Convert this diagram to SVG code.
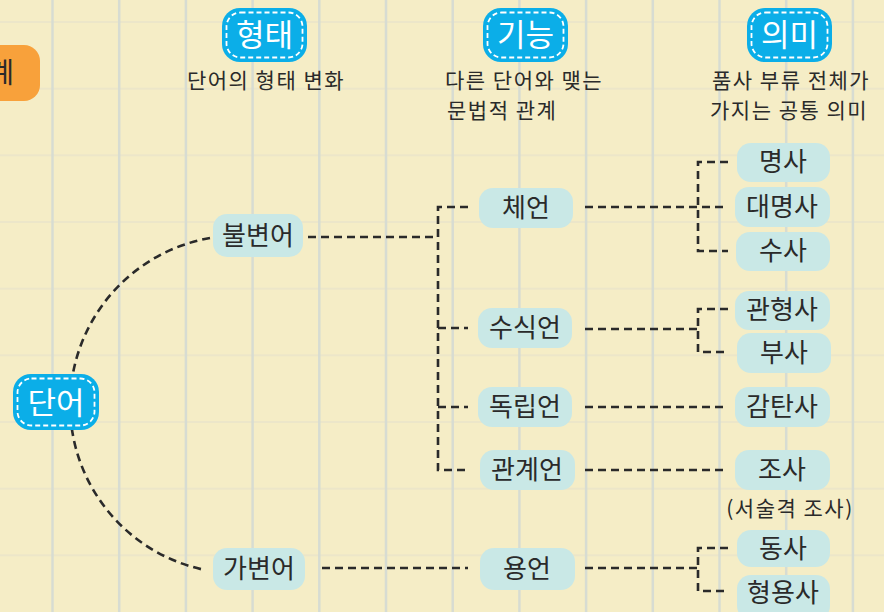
<svg xmlns="http://www.w3.org/2000/svg" width="884" height="612" viewBox="0 0 884 612">
<style>
.bg{fill:#F5EDC6}
.vg{stroke:#D7DCD2;stroke-width:2.5}
.hg{stroke:#ECE6C9;stroke-width:2}
.badge{fill:#0BAEE8}
.bin{fill:none;stroke:#fff;stroke-width:1.8;stroke-dasharray:5 3}
.bt{font-family:"Noto Sans CJK KR","Noto Sans",sans-serif;font-size:31px;fill:#fff;text-anchor:middle}
.node{fill:#C9E8E6}
.nt{font-family:"Noto Sans CJK KR","Noto Sans",sans-serif;font-size:26px;fill:#2a2a2a;text-anchor:middle}
.sub{font-family:"Noto Sans CJK KR","Noto Sans",sans-serif;font-size:21px;letter-spacing:1.5px;fill:#2a2a2a}
.con{fill:none;stroke:#2a2a2a;stroke-width:2.6;stroke-dasharray:8 5}
</style>
<rect class="bg" x="0" y="0" width="884" height="612"/>
<g id="grid">
<line class="hg" x1="0" y1="22" x2="884" y2="22"/>
<line class="hg" x1="0" y1="88.7" x2="884" y2="88.7"/>
<line class="hg" x1="0" y1="155.3" x2="884" y2="155.3"/>
<line class="hg" x1="0" y1="222" x2="884" y2="222"/>
<line class="hg" x1="0" y1="288.7" x2="884" y2="288.7"/>
<line class="hg" x1="0" y1="355.3" x2="884" y2="355.3"/>
<line class="hg" x1="0" y1="422" x2="884" y2="422"/>
<line class="hg" x1="0" y1="488.7" x2="884" y2="488.7"/>
<line class="hg" x1="0" y1="555.3" x2="884" y2="555.3"/>
<line class="vg" x1="52.5" y1="0" x2="52.5" y2="612"/>
<line class="vg" x1="119.2" y1="0" x2="119.2" y2="612"/>
<line class="vg" x1="185.9" y1="0" x2="185.9" y2="612"/>
<line class="vg" x1="252.6" y1="0" x2="252.6" y2="612"/>
<line class="vg" x1="319.3" y1="0" x2="319.3" y2="612"/>
<line class="vg" x1="386" y1="0" x2="386" y2="612"/>
<line class="vg" x1="452.7" y1="0" x2="452.7" y2="612"/>
<line class="vg" x1="519.4" y1="0" x2="519.4" y2="612"/>
<line class="vg" x1="586.1" y1="0" x2="586.1" y2="612"/>
<line class="vg" x1="652.8" y1="0" x2="652.8" y2="612"/>
<line class="vg" x1="719.5" y1="0" x2="719.5" y2="612"/>
<line class="vg" x1="786.2" y1="0" x2="786.2" y2="612"/>
<line class="vg" x1="852.9" y1="0" x2="852.9" y2="612"/>
</g>
<g id="tab">
<rect x="-20" y="45" width="60" height="56" rx="16" fill="#F8A13B"/>
<text x="14" y="83" font-family="'Noto Sans CJK KR',sans-serif" font-size="28" fill="#2a2a2a" text-anchor="end">계</text>
</g>
<g id="connectors">
<path class="con" d="M210,238 A169,169 0 0 0 205,570"/>
<path class="con" d="M308,237 H438"/>
<path class="con" d="M468,207 H438 V470 H468"/>
<path class="con" d="M438,328 H468"/>
<path class="con" d="M438,407 H468"/>
<path class="con" d="M585,207 H728"/>
<path class="con" d="M728,162 H698 V251 H728"/>
<path class="con" d="M585,329 H698"/>
<path class="con" d="M728,309 H698 V352 H728"/>
<path class="con" d="M585,407 H728"/>
<path class="con" d="M585,470 H728"/>
<path class="con" d="M322,568 H468"/>
<path class="con" d="M585,568 H698"/>
<path class="con" d="M728,548 H698 V591 H728"/>
</g>
<g id="h-form">
<rect class="badge" x="222" y="8" width="85" height="54" rx="18"/>
<rect class="bin" x="226.5" y="12.5" width="76" height="45" rx="14"/>
<text class="bt" x="264.5" y="46">형태</text>
<text class="sub" x="266" y="88" text-anchor="middle">단어의 형태 변화</text>
</g>
<g id="h-func">
<rect class="badge" x="483" y="8" width="85" height="54" rx="18"/>
<rect class="bin" x="487.5" y="12.5" width="76" height="45" rx="14"/>
<text class="bt" x="525.5" y="46">기능</text>
<text class="sub" x="445" y="88">다른 단어와 맺는</text>
<text class="sub" x="447" y="118">문법적 관계</text>
</g>
<g id="h-mean">
<rect class="badge" x="747" y="8" width="85" height="54" rx="18"/>
<rect class="bin" x="751.5" y="12.5" width="76" height="45" rx="14"/>
<text class="bt" x="789.5" y="46">의미</text>
<text class="sub" x="712" y="88">품사 부류 전체가</text>
<text class="sub" x="710" y="118">가지는 공통 의미</text>
</g>
<g id="n-word">
<rect class="badge" x="13" y="374" width="86" height="56" rx="18"/>
<rect class="bin" x="17.5" y="378.5" width="77" height="47" rx="14"/>
<text class="bt" x="56" y="414" font-size="34">단어</text>
</g>
<g id="n-bulbyeon"><rect class="node" x="213" y="214" width="90" height="43" rx="14"/><text class="nt" x="258" y="245">불변어</text></g>
<g id="n-gabyeon"><rect class="node" x="213" y="548" width="92" height="42" rx="14"/><text class="nt" x="259" y="578">가변어</text></g>
<g id="n-che"><rect class="node" x="479" y="188" width="94" height="40" rx="14"/><text class="nt" x="526" y="217">체언</text></g>
<g id="n-susik"><rect class="node" x="478" y="308" width="94" height="40" rx="14"/><text class="nt" x="525" y="337">수식언</text></g>
<g id="n-dongnip"><rect class="node" x="478" y="387" width="94" height="40" rx="14"/><text class="nt" x="525" y="416">독립언</text></g>
<g id="n-gwangye"><rect class="node" x="480" y="450" width="95" height="40" rx="14"/><text class="nt" x="527" y="479">관계언</text></g>
<g id="n-yong"><rect class="node" x="480" y="548" width="95" height="42" rx="14"/><text class="nt" x="527" y="578">용언</text></g>
<g id="n-myeongsa"><rect class="node" x="737" y="143" width="93" height="39" rx="14"/><text class="nt" x="783" y="171">명사</text></g>
<g id="n-daemyeongsa"><rect class="node" x="735" y="187" width="95" height="40" rx="14"/><text class="nt" x="782" y="216">대명사</text></g>
<g id="n-susa"><rect class="node" x="736" y="232" width="94" height="39" rx="14"/><text class="nt" x="783" y="260">수사</text></g>
<g id="n-gwanhyeongsa"><rect class="node" x="735" y="291" width="95" height="39" rx="14"/><text class="nt" x="782" y="319">관형사</text></g>
<g id="n-busa"><rect class="node" x="737" y="333" width="94" height="40" rx="14"/><text class="nt" x="784" y="362">부사</text></g>
<g id="n-gamtansa"><rect class="node" x="735" y="387" width="95" height="40" rx="14"/><text class="nt" x="782" y="416">감탄사</text></g>
<g id="n-josa"><rect class="node" x="735" y="450" width="95" height="40" rx="14"/><text class="nt" x="782" y="479">조사</text><text class="sub" x="790" y="516" text-anchor="middle" font-size="20" letter-spacing="1">(서술격 조사)</text></g>
<g id="n-dongsa"><rect class="node" x="737" y="530" width="93" height="37" rx="14"/><text class="nt" x="783" y="558">동사</text></g>
<g id="n-hyeongyongsa"><rect class="node" x="737" y="575" width="93" height="45" rx="14"/><text class="nt" x="783" y="602">형용사</text></g>
</svg>
